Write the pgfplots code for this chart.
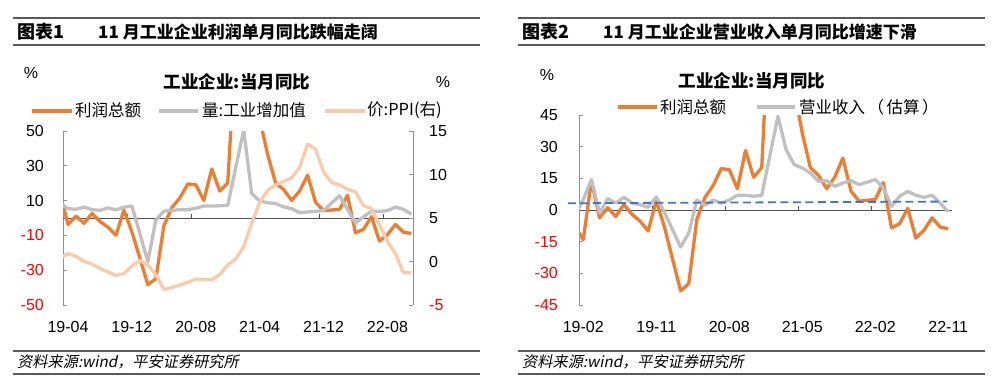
\documentclass[border=0pt]{standalone}
\usepackage{pgfplots}
\usepackage{pgfplotstable}
\pgfplotsset{compat=1.18}
\usepackage{fontspec}
\setmainfont{Liberation Sans}
\newfontfamily\cjk{Noto Sans CJK SC}
\newfontfamily\cjkit[FakeSlant=0.2]{Noto Sans CJK SC}
\definecolor{cOr}{HTML}{ED7D31}
\definecolor{cGr}{HTML}{C0C0C0}
\definecolor{cPe}{HTML}{F8CBAD}
\definecolor{cBl}{HTML}{4472C4}
\definecolor{cAx}{HTML}{909090}
\definecolor{cZero}{HTML}{505050}
\definecolor{cRule}{HTML}{595959}

% Panel 1: x = months since 2019-04
\pgfplotstableread{
x y
-1 13.9
0 -3.7
1 1.1
2 -3.1
3 2.6
4 -2.0
5 -5.3
6 -9.9
7 4.5
8 -8
10 -38.3
11 -34.9
12 -4.5
13 6.0
14 11.5
15 19.6
16 19.1
17 10.1
18 28.2
19 15.5
20 20.1
22 178.9
23 92.3
24 57.0
25 36.4
26 20.0
27 16.4
28 10.1
29 15.5
30 24.6
31 9.0
32 4.2
34 5.0
35 13.0
36 -8.5
37 -6.5
38 0.8
39 -13.3
40 -9.6
41 -3.7
42 -8.1
43 -8.9
}\profitA

\pgfplotstableread{
x y
-1 8.5
0 5.4
1 5.0
2 6.3
3 4.8
4 4.4
5 5.8
6 4.7
7 6.2
8 6.9
10 -25
11 -1.1
12 3.9
13 4.4
14 4.8
15 4.8
16 5.6
17 6.9
18 6.9
19 7.0
20 7.3
22 50.5
23 14.1
24 9.8
25 8.8
26 8.3
27 6.4
28 5.3
29 3.1
30 3.5
31 3.8
32 4.3
34 12.8
35 5.0
36 -2.9
37 0.7
38 3.9
39 3.8
40 4.2
41 6.3
42 5.0
43 2.2
}\vaA

\pgfplotstableread{
x y
-1 0.4
0 0.9
1 0.6
2 0.0
3 -0.3
4 -0.8
5 -1.2
6 -1.6
7 -1.4
8 -0.5
9 0.1
10 -0.4
11 -1.5
12 -3.2
13 -3.0
14 -2.7
15 -2.4
16 -2.0
17 -2.1
18 -2.1
19 -1.5
20 -0.4
21 0.3
22 1.7
23 4.4
24 6.8
25 8.2
26 8.8
27 9.2
28 9.6
29 10.8
30 13.5
31 12.9
32 10.3
33 9.1
34 8.8
35 8.3
36 8.0
37 6.4
38 6.1
39 4.2
40 2.3
41 0.9
42 -1.3
43 -1.3
}\ppiA

% Panel 2: x = months since 2019-02
\pgfplotstableread{
x y
-2 -1.9
0 -14.0
1 13.9
2 -3.7
3 1.1
4 -3.1
5 2.6
6 -2.0
7 -5.3
8 -9.9
9 4.5
10 -8
12 -38.3
13 -34.9
14 -4.5
15 6.0
16 11.5
17 19.6
18 19.1
19 10.1
20 28.2
21 15.5
22 20.1
24 178.9
25 92.3
26 57.0
27 36.4
28 20.0
29 16.4
30 10.1
31 15.5
32 24.6
33 9.0
34 4.2
36 5.0
37 13.0
38 -8.5
39 -6.5
40 0.8
41 -13.3
42 -9.6
43 -3.7
44 -8.1
45 -8.9
}\profitB

\pgfplotstableread{
x y
-2 -10
0 5.0
1 14.4
2 -1.4
3 5.4
4 3.3
5 6.0
6 3.3
7 2.5
8 1.3
9 6.2
10 -1.0
12 -17.5
13 -11.0
14 4.7
15 2.2
16 4.7
17 3.3
18 4.7
19 7.0
20 7.0
21 6.5
22 7.0
24 44.4
25 28.6
26 21.5
27 19.9
28 17.5
29 13.6
30 13.9
31 11.2
32 12.8
33 13.9
34 12.0
35 13.2
36 14.4
37 10.4
38 1.7
39 6.5
40 8.8
41 7.0
42 6.0
43 7.0
44 3.3
45 -0.9
}\revB

\pgfplotsset{
  base/.style={
    scale only axis, anchor=south west,
    tick label style={font=\fontsize{16}{16}\selectfont},
    tick align=inside,
    major tick length=4pt,
    y tick style={draw=cAx, line width=0.9pt},
    xtick style={draw=none},
    xticklabel style={anchor=north, inner sep=0pt, yshift=-16pt},
  },
}

\begin{document}
\begin{tikzpicture}
\path[use as bounding box] (0,0) rectangle (1006pt,-391pt);

% ---------- header rules and titles ----------
\draw[cRule, line width=1.4pt] (13pt,-18pt) -- (480pt,-18pt);
\draw[cRule, line width=1.4pt] (13pt,-45pt) -- (480pt,-45pt);
\draw[cRule, line width=1.4pt] (518pt,-18pt) -- (985pt,-18pt);
\draw[cRule, line width=1.4pt] (518pt,-45pt) -- (985pt,-45pt);
\node[anchor=west, inner sep=0pt] at (17pt,-32pt) {\cjk\bfseries\fontsize{18}{18}\selectfont 图表1};
\node[anchor=west, inner sep=0pt] at (98pt,-32pt) {\cjk\bfseries\fontsize{17}{17}\selectfont 11 月工业企业利润单月同比跌幅走阔};
\node[anchor=west, inner sep=0pt] at (522pt,-32pt) {\cjk\bfseries\fontsize{18}{18}\selectfont 图表2};
\node[anchor=west, inner sep=0pt] at (603pt,-32pt) {\cjk\bfseries\fontsize{17}{17}\selectfont 11 月工业企业营业收入单月同比增速下滑};

% ---------- footer ----------
\draw[cRule, line width=1.4pt] (13pt,-351pt) -- (480pt,-351pt);
\draw[cRule, line width=1.4pt] (13pt,-374pt) -- (480pt,-374pt);
\draw[cRule, line width=1.4pt] (518pt,-351pt) -- (985pt,-351pt);
\draw[cRule, line width=1.4pt] (518pt,-374pt) -- (985pt,-374pt);
\node[anchor=west, inner sep=0pt] at (17pt,-362pt) {\cjkit\fontsize{15.2}{15.2}\selectfont 资料来源:wind，平安证券研究所};
\node[anchor=west, inner sep=0pt] at (522pt,-362pt) {\cjkit\fontsize{15.2}{15.2}\selectfont 资料来源:wind，平安证券研究所};

% ---------- panel 1 texts ----------
\node at (31pt,-73pt) {\fontsize{16}{16}\selectfont\%};
\node at (443pt,-82pt) {\fontsize{16}{16}\selectfont\%};
\node at (237pt,-82pt) {\cjk\bfseries\fontsize{17.5}{17.5}\selectfont 工业企业:当月同比};
\draw[cOr, line width=3.2pt] (32pt,-111pt) -- (72pt,-111pt);
\node[anchor=west, inner sep=0pt] at (75pt,-110pt) {\cjk\fontsize{16.5}{16.5}\selectfont 利润总额};
\draw[cGr, line width=3.2pt] (159pt,-111pt) -- (198pt,-111pt);
\node[anchor=west, inner sep=0pt] at (202pt,-110pt) {\cjk\fontsize{16.5}{16.5}\selectfont 量:工业增加值};
\draw[cPe, line width=3.2pt] (325pt,-111pt) -- (365pt,-111pt);
\node[anchor=west, inner sep=0pt] at (367pt,-110pt) {\cjk\fontsize{16.5}{16.5}\selectfont 价:PPI(右)};

% ---------- panel 1 left axis ----------
\begin{axis}[base,
  at={(63pt,-305pt)}, width=350pt, height=174pt,
  xmin=-0.63, xmax=43.2, ymin=-50, ymax=50,
  axis y line*=left, axis x line*=bottom,
  x axis line style={draw=none},
  y axis line style={-, draw=cAx, line width=0.9pt},
  ytick={-50,-30,-10,10,30,50},
  yticklabels={\textcolor{red}{-50},\textcolor{red}{-30},\textcolor{red}{-10},10,30,50},
  yticklabel style={anchor=east, inner sep=0pt, xshift=-19pt},
  xtick={0,8,16,24,32,40},
  xticklabels={19-04,19-12,20-08,21-04,21-12,22-08},
]
\addplot[cZero, line width=0.9pt, forget plot] coordinates {(-0.63,0) (43.2,0)};
\pgfplotsinvokeforeach{7.5,15.5,23.5,31.5,39.5}{\draw[cZero, line width=0.9pt] (axis cs:#1,0) -- ++(0pt,4pt);}
\addplot[cOr, line width=3.3pt, line join=round] table[x=x,y=y] {\profitA};
\addplot[cGr, line width=3.3pt, line join=round] table[x=x,y=y] {\vaA};
\end{axis}

% ---------- panel 1 right axis (PPI) ----------
\begin{axis}[base,
  at={(63pt,-305pt)}, width=350pt, height=174pt,
  xmin=-0.63, xmax=43.2, ymin=-5, ymax=15,
  axis y line*=right, axis x line=none,
  y axis line style={-, draw=cAx, line width=0.9pt},
  ytick={-5,0,5,10,15},
  yticklabels={\textcolor{red}{-5},0,5,10,15},
  yticklabel style={anchor=west, inner sep=0pt, xshift=16pt},
]
\addplot[cPe, line width=3.3pt, line join=round] table[x=x,y=y] {\ppiA};
\end{axis}

% ---------- panel 2 texts ----------
\node at (547pt,-75pt) {\fontsize{16}{16}\selectfont\%};
\node at (752pt,-81pt) {\cjk\bfseries\fontsize{17.5}{17.5}\selectfont 工业企业:当月同比};
\draw[cOr, line width=3.2pt] (618pt,-107pt) -- (657pt,-107pt);
\node[anchor=west, inner sep=0pt] at (660pt,-107pt) {\cjk\fontsize{16.5}{16.5}\selectfont 利润总额};
\draw[cGr, line width=3.2pt] (757pt,-107pt) -- (795pt,-107pt);
\node[anchor=west, inner sep=0pt] at (799pt,-107pt) {\cjk\fontsize{16.5}{16.5}\selectfont 营业收入\hspace{0.15em}（\hspace{0.15em}估算\hspace{0.15em}）};

% ---------- panel 2 axis ----------
\begin{axis}[base,
  at={(579pt,-305pt)}, width=373pt, height=190pt,
  xmin=-0.53, xmax=45.46, ymin=-45, ymax=45,
  axis y line*=left, axis x line*=bottom,
  x axis line style={draw=none},
  y axis line style={-, draw=cAx, line width=0.9pt},
  ytick={-45,-30,-15,0,15,30,45},
  yticklabels={\textcolor{red}{-45},\textcolor{red}{-30},\textcolor{red}{-15},0,15,30,45},
  yticklabel style={anchor=east, inner sep=0pt, xshift=-21pt},
  xtick={0,9,18,27,36,45},
  xticklabels={19-02,19-11,20-08,21-05,22-02,22-11},
]
\addplot[cZero, line width=0.9pt, forget plot] coordinates {(-0.53,0) (45.46,0)};
\pgfplotsinvokeforeach{8.5,17.5,26.5,35.5,44.5}{\draw[cZero, line width=0.9pt] (axis cs:#1,0) -- ++(0pt,4pt);}
\addplot[cOr, line width=3.3pt, line join=round] table[x=x,y=y] {\profitB};
\addplot[cGr, line width=3.3pt, line join=round] table[x=x,y=y] {\revB};
\end{axis}

% ---------- panel 2 dashed reference line (unclipped overlay) ----------
\begin{axis}[
  at={(579pt,-305pt)}, anchor=south west, scale only axis, width=373pt, height=190pt,
  xmin=-0.53, xmax=45.46, ymin=-45, ymax=45, hide axis, clip=false,
]
\addplot[cBl, line width=1.8pt, dash pattern=on 8pt off 4.5pt] coordinates {(-1.89,3.2) (44.85,4.0)};
\end{axis}
\end{tikzpicture}
\end{document}
